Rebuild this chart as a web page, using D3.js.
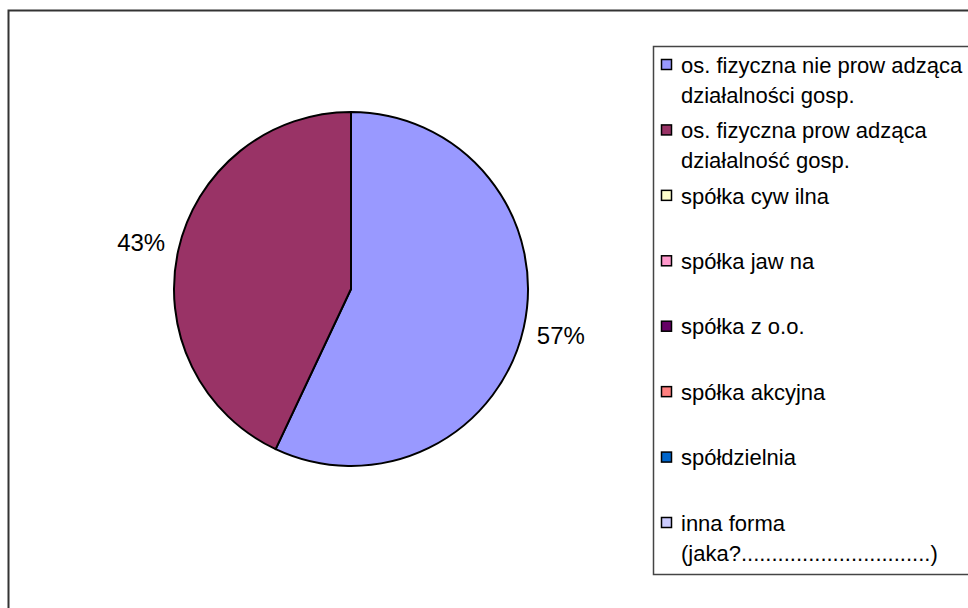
<!DOCTYPE html>
<html lang="pl">
<head>
<meta charset="utf-8">
<title>Forma prawna</title>
<script src="https://d3js.org/d3.v7.min.js"></script>
<style>
  body { margin: 0; background: #fff; }
  text { font-family: "Liberation Sans", Arial, sans-serif; fill: #000; }
</style>
</head>
<body>
<svg id="chart" width="968" height="608"></svg>
<script>
// categories of the legend (spacing inside words kept as in the picture)
var categories = [
  "os. fizyczna nie prow adząca działalności gosp.",
  "os. fizyczna prow adząca działalność gosp.",
  "spółka cyw ilna",
  "spółka jaw na",
  "spółka z o.o.",
  "spółka akcyjna",
  "spółdzielnia",
  "inna forma (jaka?...............................)"
];
// share of answers, in percent
var values = [57, 43, 0, 0, 0, 0, 0, 0];
var colors = ["#9999FF", "#993366", "#FFFFCC", "#FF99CC", "#660066", "#FF8080", "#0066CC", "#CCCCFF"];

var svg = d3.select("#chart");

// outer chart frame (runs off the right and bottom)
svg.append("rect")
   .attr("x", 8.5).attr("y", 10.5)
   .attr("width", 1000).attr("height", 700)
   .attr("fill", "none")
   .attr("stroke", "#333").attr("stroke-width", 2);

// pie
var cx = 351, cy = 289, r = 177;
var pie = d3.pie().sort(null).value(function(d) { return d; });
var arcs = pie(values).map(function(a, i) { a.index = i; return a; })
                      .filter(function(a) { return a.value > 0; });
var arc = d3.arc().innerRadius(0).outerRadius(r);
var labelArc = d3.arc().innerRadius(r + 38).outerRadius(r + 38);

var g = svg.append("g").attr("transform", "translate(" + cx + "," + cy + ")");
g.selectAll("path.slice")
 .data(arcs)
 .enter().append("path")
 .attr("class", "slice")
 .attr("d", arc)
 .attr("fill", function(d) { return colors[d.index]; })
 .attr("stroke", "#000")
 .attr("stroke-width", 2)
 .attr("stroke-linejoin", "round");

var total = d3.sum(values);
g.selectAll("text.pct")
 .data(arcs)
 .enter().append("text")
 .attr("class", "pct")
 .attr("transform", function(d) { return "translate(" + labelArc.centroid(d) + ")"; })
 .attr("text-anchor", "middle")
 .attr("dy", "0.35em")
 .attr("font-size", "24px")
 .text(function(d) { return Math.round(d.value / total * 100) + "%"; });

// legend
var legendX = 653.5, legendTop = 46.5, legendBottom = 574.5;
svg.append("rect")
   .attr("x", legendX).attr("y", legendTop)
   .attr("width", 400).attr("height", legendBottom - legendTop)
   .attr("fill", "#fff")
   .attr("stroke", "#444").attr("stroke-width", 1.5);

var yLegend = d3.scalePoint().domain(categories).range([65, 523]);

var items = svg.selectAll("g.item")
  .data(categories)
  .enter().append("g")
  .attr("class", "item")
  .attr("transform", function(d) { return "translate(0," + yLegend(d) + ")"; });

items.append("rect")
  .attr("x", 661.5).attr("y", -5.5)
  .attr("width", 10).attr("height", 10)
  .attr("fill", function(d, i) { return colors[i]; })
  .attr("stroke", "#000").attr("stroke-width", 1.5);

// wrap the label text into lines no wider than maxW
var maxW = 300;
items.each(function(d) {
  var t = d3.select(this).append("text")
    .attr("font-size", "22px");
  var words = d.split(" "), line = [], lineNo = 0;
  var tspan = t.append("tspan").attr("x", 681).attr("y", 0).attr("dy", "0.35em");
  words.forEach(function(w) {
    line.push(w);
    tspan.text(line.join(" "));
    if (tspan.node().getComputedTextLength() > maxW && line.length > 1) {
      line.pop();
      tspan.text(line.join(" "));
      line = [w];
      lineNo++;
      tspan = t.append("tspan").attr("x", 681).attr("y", lineNo * 30)
               .attr("dy", "0.35em").text(w);
    }
  });
});
</script>
</body>
</html>
